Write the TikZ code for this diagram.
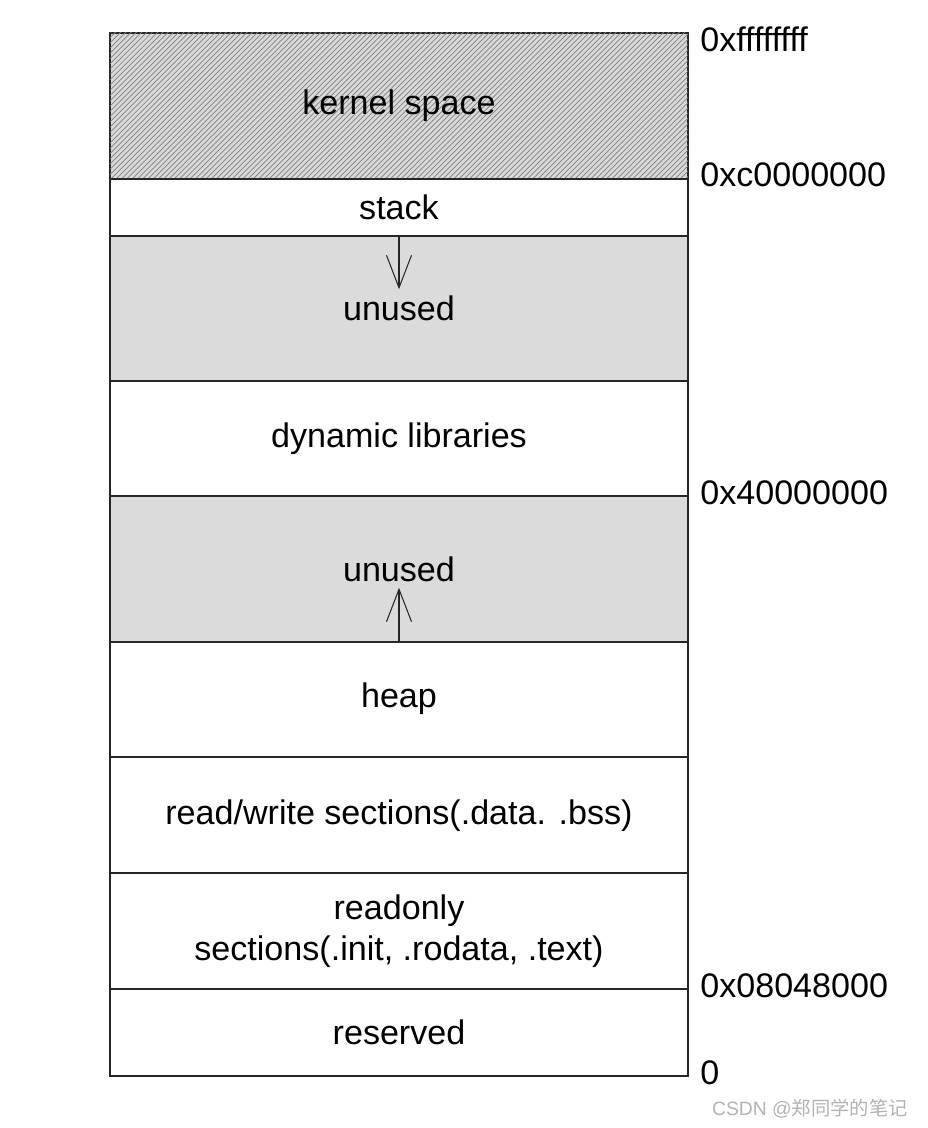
\documentclass[tikz,border=0pt]{standalone}
\usepackage{fontspec}
\setmainfont{Liberation Sans}
\newfontfamily\cjk{Noto Sans CJK SC}
\usetikzlibrary{patterns,arrows.meta}

\begin{document}
\begin{tikzpicture}[x=0.02cm,y=-0.02cm,
    font=\fontsize{19.4}{23.5}\selectfont,
    region/.style={draw=black!85, line width=0.6pt},
    kernelfill/.style={region, fill=gray!30, postaction={pattern=north east lines, pattern color=black!50}},
    unusedfill/.style={region, fill=gray!28},
    addr/.style={anchor=west, inner sep=0pt},
    growarrow/.style={draw=black!85, line width=0.6pt, -{Straight Barb[length=6.5mm,width=5mm]}}]
    \useasboundingbox (0,0) rectangle (928,1128);

    % Memory regions
    \draw[kernelfill] (110,33) rectangle (688,179);
    \draw[region] (110,179) rectangle (688,236);
    \draw[unusedfill] (110,236) rectangle (688,381);
    \draw[region] (110,381) rectangle (688,496);
    \draw[unusedfill] (110,496) rectangle (688,642);
    \draw[region] (110,642) rectangle (688,757);
    \draw[region] (110,757) rectangle (688,873);
    \draw[region] (110,873) rectangle (688,989);
    \draw[region] (110,989) rectangle (688,1076);

    % Region names
    \node (kernel) at (399,106) {kernel space};
    \node (stack) at (399,207) {stack};
    \node (unusedtop) at (399,308) {unused};
    \node (dynlib) at (399,439) {dynamic libraries};
    \node (unusedbot) at (399,569) {unused};
    \node (heap) at (399,699) {heap};
    \node (rwdata) at (399,816) {read/write sections(.data. .bss)};
    \node[align=center] (rodata) at (399,931) {readonly\\sections(.init, .rodata, .text)};
    \node (reserved) at (399,1032) {reserved};

    % Growth directions
    \coordinate (stacktop) at (399,236);
    \coordinate (heaptop) at (399,642);
    \draw[growarrow] (stacktop) -- (unusedtop.north);
    \draw[growarrow] (heaptop) -- (unusedbot.south);

    % Addresses
    \node[addr] (addrtop) at (700,39) {0xffffffff};
    \node[addr] (addrkern) at (700,175) {0xc0000000};
    \node[addr] (addrlib) at (700,493) {0x40000000};
    \node[addr] (addrtext) at (700,986) {0x08048000};
    \node[addr] (addrzero) at (700,1073) {0};

    % Watermark
    \node[anchor=east, text=gray!60, font=\fontsize{11}{13}\selectfont] (mark) at (914,1109) {CSDN @\cjk 郑同学的笔记};
\end{tikzpicture}
\end{document}
